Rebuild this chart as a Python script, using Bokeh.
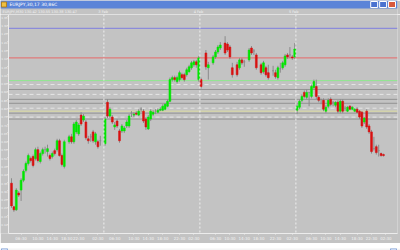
from bokeh.plotting import figure
from bokeh.layouts import column
from bokeh.models import Range1d, FixedTicker, Span, ColumnDataSource
from bokeh.embed import file_html
from bokeh.resources import INLINE
from bokeh.core.properties import value

# ---------------- data ----------------
window_title = "EURJPY,30,17 30,86C"
chart_subtitle = "EURJPY,M30  130.42 130.55 130.38 130.47"

slots = (list(range(0, 23)) + list(range(24, 38)) + list(range(39, 79)) +
         [79, 81, 82, 84, 85, 86, 87, 89, 90, 91, 92, 94, 95, 96, 97, 99, 100, 101, 102,
          104, 105, 106, 107, 109, 110, 111, 112, 113, 114, 115, 116, 117, 118] +
         list(range(119, 156)))

opens = [65, 41, 38, 55, 58, 68, 78, 85, 90, 92, 90, 99, 87, 95, 99, 97, 93, 92, 98, 99, 108, 93, 82, 107, 112, 107, 117, 115, 134, 129, 127, 110, 112, 117, 107, 107, 108,
         105, 147, 133, 132, 122, 128, 118, 118, 118, 123, 123, 136, 134, 136, 134, 140, 138, 130, 120, 130, 135, 138, 137, 139, 139, 140, 143, 148, 170, 172, 168, 170, 175, 175, 175, 178, 182, 185, 188, 170,
         170, 197, 182, 187, 193, 198, 202, 207, 206, 203, 182, 185, 182, 190, 188, 190, 202, 199, 195, 185, 178, 182, 177, 179, 177, 172, 181, 182, 185, 195, 195, 193, 193,
         139, 142, 149, 157, 152, 157, 153, 162, 163, 152, 150, 149, 138, 143, 150, 147, 144, 147, 138, 148, 141, 138, 143, 140, 138, 140, 138, 137, 127, 138, 123, 117, 100, 102, 98, 95, 94]
highs = [70, 42, 60, 57, 70, 79, 87, 95, 92, 94, 101, 102, 97, 101, 102, 104, 95, 97, 100, 110, 110, 95, 109, 114, 115, 127, 129, 126, 137, 135, 129, 113, 115, 119, 117, 109, 113,
         132, 150, 142, 134, 127, 130, 120, 125, 123, 129, 135, 138, 137, 138, 140, 142, 140, 132, 134, 140, 139, 140, 141, 142, 145, 146, 150, 172, 174, 174, 174, 179, 177, 177, 182, 185, 189, 190, 190, 194,
         172, 200, 188, 195, 200, 205, 208, 214, 208, 205, 187, 188, 192, 192, 190, 202, 204, 201, 197, 187, 189, 184, 185, 184, 180, 184, 187, 189, 196, 197, 203, 195, 207,
         145, 150, 155, 159, 160, 157, 165, 170, 170, 154, 150, 151, 144, 151, 152, 148, 148, 149, 150, 150, 143, 143, 144, 143, 141, 142, 139, 138, 132, 140, 125, 119, 112, 104, 104, 96, 95]
lows = [40, 36, 37, 51, 47, 66, 76, 83, 86, 81, 88, 86, 85, 93, 95, 92, 88, 90, 93, 97, 92, 82, 80, 105, 105, 105, 115, 113, 123, 127, 109, 105, 107, 106, 104, 100, 103,
        103, 131, 131, 125, 119, 121, 106, 116, 116, 121, 121, 132, 132, 134, 133, 137, 126, 119, 119, 128, 133, 135, 136, 138, 138, 139, 142, 147, 168, 168, 166, 168, 170, 168, 173, 177, 180, 183, 182, 168,
        161, 180, 170, 185, 191, 196, 200, 195, 198, 191, 172, 173, 180, 185, 183, 188, 195, 195, 180, 175, 176, 173, 170, 174, 171, 170, 177, 180, 183, 191, 192, 190, 191,
        135, 140, 147, 151, 150, 143, 151, 160, 150, 147, 145, 138, 136, 141, 143, 143, 142, 136, 136, 136, 138, 137, 139, 139, 137, 136, 130, 121, 125, 120, 115, 95, 98, 94, 92, 92, 92]
closes = [42, 38, 58, 53, 68, 77, 85, 93, 88, 83, 99, 88, 95, 99, 99, 100, 90, 95, 95, 108, 93, 84, 107, 112, 107, 125, 127, 124, 125, 133, 111, 108, 112, 108, 115, 102, 108,
          130, 133, 140, 127, 124, 123, 108, 123, 121, 127, 133, 136, 135, 135, 138, 140, 128, 122, 132, 138, 137, 138, 139, 140, 143, 145, 148, 170, 172, 170, 172, 177, 172, 170, 180, 183, 187, 188, 185, 192,
          163, 183, 185, 193, 198, 203, 205, 197, 200, 193, 175, 175, 190, 187, 188, 200, 197, 199, 182, 177, 187, 175, 172, 179, 173, 182, 181, 187, 194, 193, 195, 192, 201,
          143, 148, 153, 153, 157, 157, 163, 168, 153, 149, 150, 140, 142, 149, 145, 147, 147, 138, 148, 138, 141, 142, 140, 142, 140, 137, 132, 123, 131, 122, 117, 97, 100, 96, 98, 93, 93]

level_values = [222, 192, 169, 165, 160, 155, 150, 146, 141, 138, 136, 132, 130]
level_colors = ["#7f7fe0", "#e86a6a", "#8ee88e", "#e6e6e6", "#929292", "#e6e6e6", "#929292",
                "#929292", "#e6e6e6", "#dcdca0", "#929292", "#e6e6e6", "#929292"]
level_dashes = ["solid", "solid", "solid", "4 3", "solid", "4 3", "solid",
                "solid", "4 3", "solid", "solid", "4 3", "solid"]

day_breaks = [38.5, 78.5, 118.5]
day_labels = ["3 Feb", "4 Feb", "5 Feb"]

x_tick_slots = [4, 11, 17, 23, 28, 36, 43, 51, 57, 63, 70, 76, 85, 91, 97, 103, 110, 117, 125, 131, 137, 144, 150, 156]
x_tick_labels = ["06:30", "10:30", "14:30", "18:30", "22:30", "02:30", "06:30", "10:30", "14:30", "18:30", "22:30",
                 "02:30", "06:30", "10:30", "14:30", "18:30", "22:30", "02:30", "06:30", "10:30", "14:30", "18:30", "22:30", "02:30"]

y_tick_values = [233.5, 225.1, 216.7, 208.3, 199.9, 191.5, 183.1, 174.7, 166.3, 157.9, 149.5, 141.1, 132.7,
                 124.3, 115.9, 107.5, 99.1, 90.7, 82.3, 73.9, 65.5, 57.1, 48.7, 40.3, 31.9, 23.5]
y_tick_labels = ["1.35", "1.30", "1.25", "1.20", "1.15", "1.10", "1.05", "1.00", "0.95",
                 "0.90", "0.85", "0.80", "0.75", "0.70", "0.65", "0.60", "0.55", "0.50",
                 "0.45", "0.40", "0.35", "0.30", "0.25", "0.20", "0.15", "0.10"]

# ---------------- styles ----------------
BG = "#c3c3c3"
GREEN = "#00e600"
RED = "#d81010"
WICK = "#8a8a8a"
TXT = "#f2f2f2"
FONT = value("DejaVu Sans")
TITLE_BLUE = "#5b84d8"

spacing = 2.4          # pixels per bar slot
first_bar_px = 11      # pixel of slot 0
axis_px = 8            # pixel of the price axis line
right_px = 3
x_start = -first_bar_px / spacing
x_end = x_start + (400 - right_px) / spacing
x_full_end = x_start + 400 / spacing
axis_slot = x_start + axis_px / spacing


def px(x):
    """window pixel -> slot coordinate (for window chrome only)"""
    return x_start + x / spacing


def bare(fig):
    fig.axis.visible = False
    fig.grid.visible = False
    fig.outline_line_color = None
    return fig


# ---------------- window title bar + subtitle strip ----------------
top = bare(figure(width=400, height=14, x_range=Range1d(x_start, x_full_end), y_range=Range1d(0, 14),
                  toolbar_location=None, output_backend="svg", min_border=0))
top.background_fill_color = BG
top.border_fill_color = BG
top.quad(left=[x_start], right=[x_full_end], bottom=[6], top=[14], fill_color=TITLE_BLUE, line_color=None)
top.quad(left=[px(1)], right=[px(6)], bottom=[7.5], top=[12.5], fill_color="#f0c040", line_color="#b08020")
top.text(x=[px(9)], y=[10], text=[window_title], text_font_size="4.5px", text_color="white",
         text_baseline="middle", text_font=FONT)
top.quad(left=[px(373), px(382)], right=[px(380), px(389)], bottom=[7, 7], top=[13, 13],
         fill_color="#4a72d0", line_color="white")
top.quad(left=[px(391)], right=[px(398)], bottom=[7], top=[13], fill_color="#d8583c", line_color="white")
top.text(x=[px(2)], y=[3], text=[chart_subtitle], text_font_size="3.5px",
         text_color=TXT, text_baseline="middle", text_font=FONT)
top.text(x=day_breaks, y=[2.5] * len(day_breaks), text=day_labels, text_font_size="3.5px",
         text_color=TXT, text_baseline="middle", text_align="center", text_font=FONT)

# ---------------- main chart ----------------
p = figure(width=400, height=229, x_range=Range1d(x_start, x_end), y_range=Range1d(14, 236),
           toolbar_location=None, output_backend="svg",
           min_border_left=0, min_border_right=right_px, min_border_top=0, min_border_bottom=7)
p.background_fill_color = BG
p.border_fill_color = BG
p.outline_line_color = None
p.grid.visible = False

solid = [i for i, d in enumerate(level_dashes) if d == "solid"]
dashed = [i for i, d in enumerate(level_dashes) if d != "solid"]
p.segment(x0=[axis_slot] * len(solid), y0=[level_values[i] for i in solid],
          x1=[x_end] * len(solid), y1=[level_values[i] for i in solid],
          line_color=[level_colors[i] for i in solid], line_width=1)
p.segment(x0=[axis_slot] * len(dashed), y0=[level_values[i] for i in dashed],
          x1=[x_end] * len(dashed), y1=[level_values[i] for i in dashed],
          line_color=[level_colors[i] for i in dashed], line_dash="4 3", line_width=1)

for b in day_breaks:
    p.add_layout(Span(location=b, dimension="height", line_color="#f0f0f0", line_width=1, line_dash="2 2"))

colors = [GREEN if c > o else (RED if c < o else WICK) for o, c in zip(opens, closes)]
src = ColumnDataSource(dict(slot=slots, open=opens, high=highs, low=lows, close=closes,
                            top=[max(o, c) for o, c in zip(opens, closes)],
                            bottom=[min(o, c) for o, c in zip(opens, closes)],
                            color=colors))
p.segment(x0="slot", y0="low", x1="slot", y1="high", source=src, line_color=WICK, line_width=1)
p.vbar(x="slot", width=0.75, top="top", bottom="bottom", source=src,
       fill_color="color", line_color="color", line_width=0.6)

xa = p.xaxis[0]
xa.bounds = (axis_slot, x_end)
xa.ticker = FixedTicker(ticks=x_tick_slots)
xa.major_label_overrides = {s: l for s, l in zip(x_tick_slots, x_tick_labels)}
xa.major_label_text_font_size = "4px"
xa.major_label_text_font = "DejaVu Sans"
xa.major_label_text_color = TXT
xa.major_label_standoff = 1
xa.axis_line_color = "#ececec"
xa.major_tick_line_color = "#ececec"
xa.major_tick_in = 0
xa.major_tick_out = 1
xa.minor_tick_line_color = None

ya = p.yaxis[0]
ya.fixed_location = axis_slot
ya.ticker = FixedTicker(ticks=y_tick_values)
ya.major_label_overrides = {v: l for v, l in zip(y_tick_values, y_tick_labels)}
ya.major_label_text_font_size = "2.8px"
ya.major_label_text_font = "DejaVu Sans"
ya.major_label_text_color = TXT
ya.major_label_standoff = 0
ya.axis_line_color = "#ececec"
ya.major_tick_line_color = "#ececec"
ya.major_tick_in = 0
ya.major_tick_out = 1
ya.minor_tick_line_color = None

# ---------------- bottom strip (scrollbar + taskbar) ----------------
bot = bare(figure(width=400, height=7, x_range=Range1d(0, 400), y_range=Range1d(0, 7),
                  toolbar_location=None, output_backend="svg", min_border=0))
bot.background_fill_color = "#f4f4f4"
bot.border_fill_color = "#f4f4f4"
bot.quad(left=[0], right=[400], bottom=[0], top=[3], fill_color="#2f62c6", line_color=None)
bot.quad(left=[1, 393], right=[7, 399], bottom=[3.5, 3.5], top=[7, 7], fill_color="#c8d8f4", line_color="#8aa8d8")

layout = column(top, p, bot, spacing=0)
open("out.html", "w").write(file_html(layout, INLINE))
